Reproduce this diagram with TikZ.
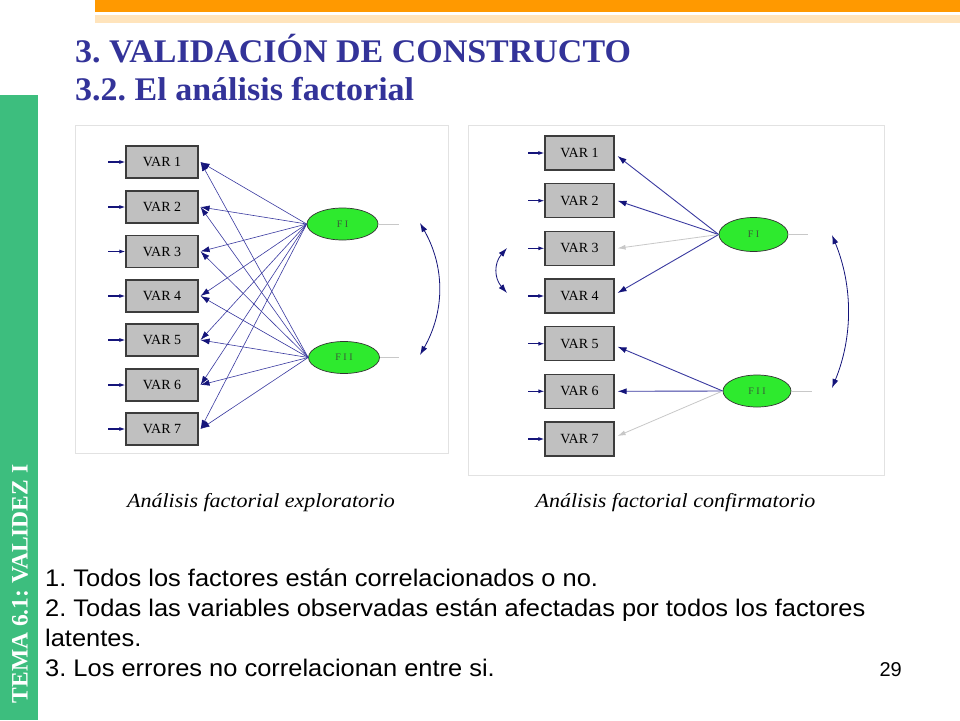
\documentclass[tikz,border=0pt]{standalone}
\usepackage{fontspec}
\setmainfont{Liberation Serif}
\newfontfamily\arialf{Liberation Sans}
\usetikzlibrary{arrows.meta,shapes.geometric}
\definecolor{orangebar}{HTML}{FF9900}
\definecolor{beigebar}{HTML}{FFE4BC}
\definecolor{stripgreen}{HTML}{3DBE7E}
\definecolor{titleblue}{HTML}{333399}
\definecolor{navyhead}{HTML}{14147A}
\definecolor{lineblue}{HTML}{3A3AA0}
\definecolor{boxgray}{HTML}{C0C0C0}
\definecolor{boxborder}{HTML}{3C3C3C}
\definecolor{factgreen}{HTML}{2EEA2E}
\definecolor{framegray}{HTML}{E2E2E2}
\definecolor{weakgray}{HTML}{C8C8C8}
\definecolor{facttext}{HTML}{3A5A3A}
\tikzset{
  varbox/.style={draw=boxborder, line width=1.1pt, fill=boxgray, minimum width=72pt, minimum height=32pt, inner sep=0pt, font=\fontsize{14}{14}\selectfont},
  varboxr/.style={varbox, minimum width=69pt, minimum height=34pt},
  factor/.style={ellipse, draw=black!80, line width=0.7pt, fill=factgreen, minimum width=71pt, minimum height=32pt, inner sep=0pt, font=\fontsize{10}{10}\selectfont, text=facttext},
  load/.style={draw=lineblue, line width=0.6pt, -{Latex[length=9pt,width=6pt,color=navyhead]}},
  loadthick/.style={load, line width=0.9pt},
  weak/.style={draw=weakgray, line width=0.8pt, -{Latex[length=8pt,width=5pt,color=weakgray]}},
  errarrow/.style={draw=navyhead, line width=1.1pt, -{Latex[length=6pt,width=4pt]}},
  corr/.style={draw=navyhead, line width=0.8pt, {Latex[length=9pt,width=6pt]}-{Latex[length=9pt,width=6pt]}},
  stub/.style={draw=weakgray, line width=1pt},
  frameline/.style={draw=framegray, line width=0.8pt},
}
\begin{document}
\frenchspacing
\begin{tikzpicture}[x=1pt,y=-1pt]
\useasboundingbox (0,0) rectangle (960,720);
\fill[white] (0,0) rectangle (960,720);
% decorations
\fill[orangebar] (95,0) rectangle (960,12);
\fill[beigebar] (95,15) rectangle (960,23);
\fill[stripgreen] (0,95) rectangle (38,720);
\node[rotate=90, text=white, font=\bfseries\fontsize{23.5}{23.5}\selectfont] (side) at (20,584) {TEMA 6.1: VALIDEZ I};
% titles
\node[anchor=base west, inner sep=0pt, text=titleblue, font=\bfseries\fontsize{33}{33}\selectfont] (t1) at (75,62) {\scalebox{1.03}[1]{3. VALIDACIÓN DE CONSTRUCTO}};
\node[anchor=base west, inner sep=0pt, text=titleblue, font=\bfseries\fontsize{33}{33}\selectfont] (t2) at (75,100) {\scalebox{1.03}[1]{3.2. El análisis factorial}};
% frames
\draw[frameline] (75,125) rectangle (448,453);
\draw[frameline] (468,125) rectangle (884,475);
% ---------- left diagram ----------
\foreach \i/\y in {1/162,2/207,3/251.5,4/296,5/340,6/385,7/429}{
  \node[varbox] (L\i) at (162,\y) {VAR \i};
  \coordinate (LE\i) at (108,\y);
  \draw[errarrow] (LE\i) -- (L\i.west);
}
\node[factor] (LFI) at (342.5,224) {F I};
\node[factor] (LFII) at (344,357.5) {F I I};
\coordinate (LS1) at (399,224);
\coordinate (LS2) at (399,357.5);
\draw[stub] (LFI.east) -- (LS1);
\draw[stub] (LFII.east) -- (LS2);
\foreach \i in {1,...,7}{
  \draw[load] (LFI.west) -- ([xshift=2pt]L\i.east);
  \draw[load] (LFII.west) -- ([xshift=2pt]L\i.east);
}
\coordinate (LC1) at (420,223);
\coordinate (LC2) at (420,355);
\draw[corr] (LC1) .. controls (445,267) and (445,311) .. (LC2);
% ---------- right diagram ----------
\foreach \i/\y in {1/153,2/200.7,3/248.3,4/296,5/343.7,6/391.3,7/439}{
  \node[varboxr] (R\i) at (579.5,\y) {VAR \i};
  \coordinate (RE\i) at (528,\y);
  \draw[errarrow] (RE\i) -- (R\i.west);
}
\node[factor, minimum width=69pt, minimum height=34pt] (RFI) at (753.5,234.5) {F I};
\node[factor, minimum width=68pt, minimum height=32pt] (RFII) at (757,391) {F I I};
\coordinate (RS1) at (808,234.5);
\coordinate (RS2) at (812,391);
\draw[stub] (RFI.east) -- (RS1);
\draw[stub] (RFII.east) -- (RS2);
\draw[loadthick] (RFI.west) -- ([xshift=3pt,yshift=-3pt]R1.east);
\draw[loadthick] (RFI.west) -- ([xshift=3pt]R2.east);
\draw[weak] (RFI.west) -- ([xshift=3pt]R3.east);
\draw[loadthick] (RFI.west) -- ([xshift=3pt,yshift=3pt]R4.east);
\draw[loadthick] (RFII.west) -- ([xshift=3pt,yshift=-3pt]R5.east);
\draw[loadthick] (RFII.west) -- ([xshift=3pt]R6.east);
\draw[weak] (RFII.west) -- ([xshift=3pt,yshift=3pt]R7.east);
\coordinate (RC1) at (832,235);
\coordinate (RC2) at (832,388);
\draw[corr] (RC1) .. controls (853,286) and (853,337) .. (RC2);
\coordinate (RD1) at (507,248);
\coordinate (RD2) at (507,293);
\draw[corr] (RD1) .. controls (494,263) and (494,278) .. (RD2);
% captions
\node[anchor=base, inner sep=0pt, font=\itshape\fontsize{20}{20}\selectfont] (cap1) at (261,507) {\scalebox{1.1}[1]{Análisis factorial exploratorio}};
\node[anchor=base, inner sep=0pt, font=\itshape\fontsize{20}{20}\selectfont] (cap2) at (675.5,507) {\scalebox{1.1}[1]{Análisis factorial confirmatorio}};
% body text
\begin{scope}[every node/.style={anchor=base west, inner sep=0pt, font=\arialf\fontsize{24}{24}\selectfont}]
\node (b1) at (45,586) {\scalebox{1.06}[1]{1. Todos los factores están correlacionados o no.}};
\node (b2) at (45,616) {\scalebox{1.06}[1]{2. Todas las variables observadas están afectadas por todos los factores}};
\node (b3) at (45,646) {\scalebox{1.06}[1]{latentes.}};
\node (b4) at (45,676) {\scalebox{1.06}[1]{3. Los errores no correlacionan entre si.}};
\end{scope}
\node[anchor=base east, inner sep=0pt, font=\arialf\fontsize{20}{20}\selectfont] (pg) at (902,676) {29};
\end{tikzpicture}
\end{document}
